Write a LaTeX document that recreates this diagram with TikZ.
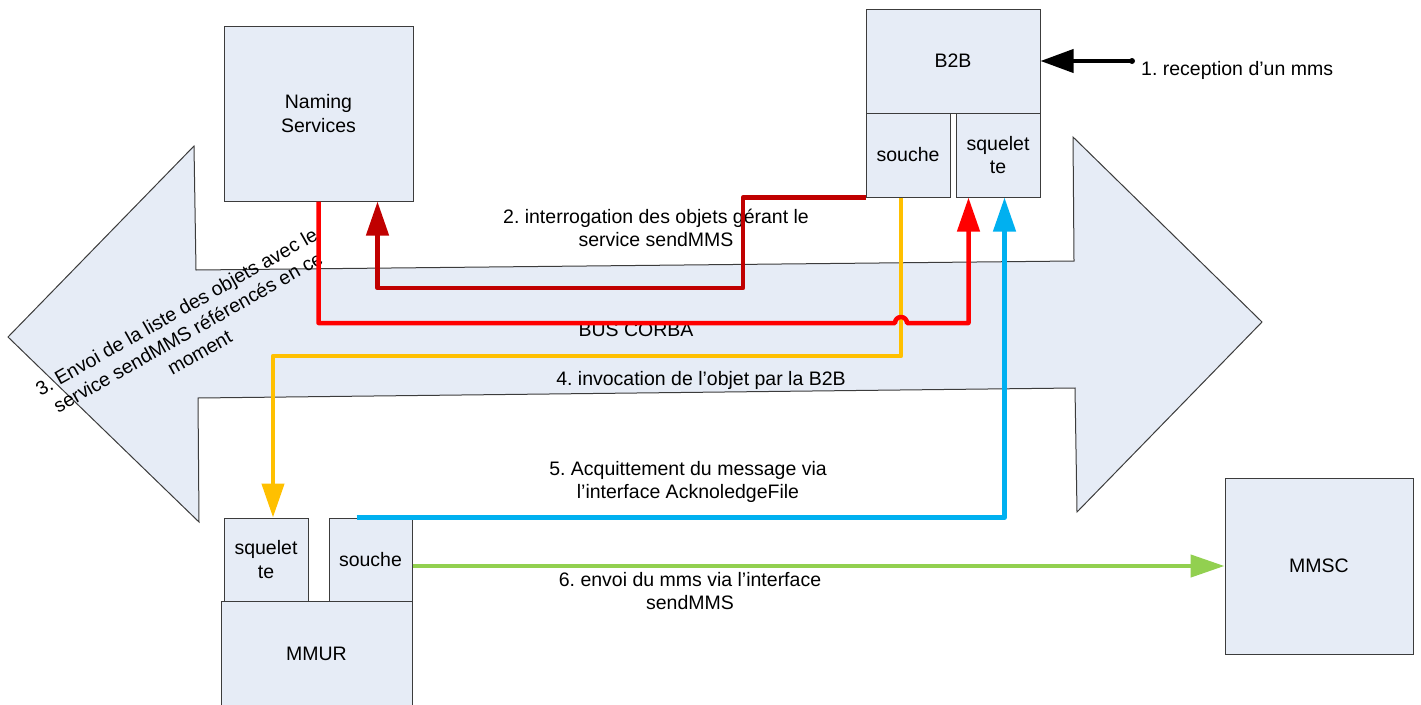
\documentclass[tikz,border=0pt]{standalone}
\usepackage{fontspec}
\setmainfont{Liberation Sans}
\usetikzlibrary{arrows.meta,calc}
\definecolor{boxfill}{RGB}{230,236,246}
\definecolor{boxline}{RGB}{60,60,60}
\definecolor{cdarkred}{RGB}{192,0,0}
\definecolor{cred}{RGB}{255,0,0}
\definecolor{cyellow}{RGB}{255,192,0}
\definecolor{ccyan}{RGB}{0,176,240}
\definecolor{cgreen}{RGB}{146,208,80}
\tikzset{
  box/.style={draw=boxline, fill=boxfill, line width=1pt, inner sep=0pt, align=center, rectangle},
  lbl/.style={inner sep=0pt, align=center},
  conn/.style={line width=4.5pt, line join=round, -{Triangle[length=34pt,width=22pt]}},
}
\frenchspacing
\begin{document}
\begin{tikzpicture}[x=1pt,y=-1pt,font=\fontsize{19.5}{23.5}\selectfont]
\useasboundingbox (0,0) rectangle (1421,704);
% bus corba double arrow
\draw[draw=boxline, fill=boxfill, line width=1pt, line join=miter]
  (8,337) -- (194,146) -- (196,270) -- (1074,261) -- (1073,137) -- (1262,322)
  -- (1077,512) -- (1075,388) -- (198,398) -- (199,522) -- cycle;
% boxes
\node[box, minimum width=189pt, minimum height=175pt] (ns) at (318.5,113.5) {Naming\\Services};
\node[box, minimum width=174pt, minimum height=104pt] (b2b) at (953,61) {B2B};
\node[box, minimum width=84pt, minimum height=84pt] (b2bso) at (908,155) {souche};
\node[box, minimum width=84pt, minimum height=84pt] (b2bsq) at (998,155) {squelet\\te};
\node[box, minimum width=84pt, minimum height=83pt] (mmsq) at (266,559.5) {squelet\\te};
\node[box, minimum width=83pt, minimum height=83pt] (mmso) at (370.5,559.5) {souche};
\node[box, minimum width=191pt, minimum height=105pt] (mmur) at (316.5,653.5) {MMUR};
\node[box, minimum width=188pt, minimum height=176pt] (mmsc) at (1319,566) {MMSC};
% labels
\node[lbl, anchor=base west] (l1) at (1141,75) {1. reception d’un mms};
\node[lbl] (l2) at (656,228) {2. interrogation des objets gérant le\\service sendMMS};
\node[lbl, rotate=29.5] (l3) at (188,332) {3. Envoi de la liste des objets avec le\\service sendMMS référencés en ce\\moment};
\node[lbl] (l4) at (701,380) {4. invocation de l’objet par la B2B};
\node[lbl] (l5) at (688,482) {5. Acquittement du message via\\l’interface AcknoledgeFile};
\node[lbl] (l6) at (690,591) {6. envoi du mms via l’interface\\sendMMS};
\node[lbl, anchor=base] (bus) at (636,336) {BUS CORBA};
% connectors
\coordinate (c1) at (1132,61);
\fill (c1) circle (3);
\draw[line width=4pt, -{Triangle[length=33pt,width=23pt]}] (c1) -- (b2b.east);
\draw[conn, cdarkred] (b2bso.south west) -| (743,288) -| ($(ns.south west)+(154,0)$);
\draw[conn, cyellow] ($(b2bso.south)+(-7,0)$) |- (273,356) -- ($(mmsq.north)+(7,0)$);
\draw[conn, cred] (ns.south) |- (895,323) arc[start angle=180, end angle=360, radius=6] -| ($(b2bsq.south west)+(13,0)$);
\draw[conn, ccyan] ($(mmso.north west)+(28,0)$) -| ($(b2bsq.south west)+(49,0)$);
\draw[conn, cgreen] ($(mmso.east)+(0,6.5)$) -- (mmsc.west);
\end{tikzpicture}
\end{document}
